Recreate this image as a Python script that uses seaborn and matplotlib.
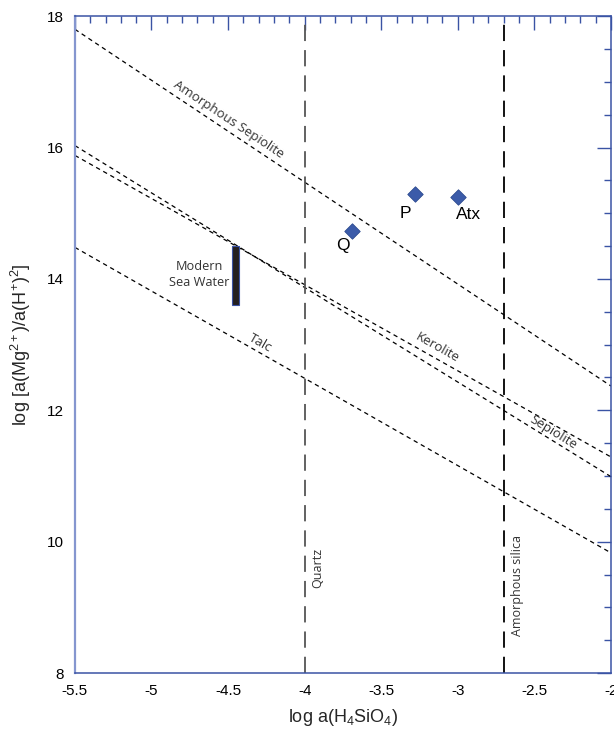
import numpy as np
import pandas as pd
import matplotlib
matplotlib.use("Agg")
import matplotlib.pyplot as plt
from matplotlib.ticker import MultipleLocator
import seaborn as sns

# ---- data ----
mineral_names = ["Amorphous Sepiolite", "Sepiolite", "Kerolite", "Talc"]
x_ends = [-5.5, -2.0]
y_left = [17.80, 16.03, 15.88, 14.48]
y_right = [12.37, 10.99, 11.29, 9.83]

silica_names = ["Quartz", "Amorphous silica"]
silica_x = [-4.0, -2.7]

sample_names = ["Q", "P", "Atx"]
sample_x = [-3.69, -3.28, -3.00]
sample_y = [14.73, 15.29, 15.25]

seawater_x = -4.45
seawater_range = [13.6, 14.5]

sns.set_theme(style="white")
plt.rcParams["font.family"] = ["Liberation Sans", "DejaVu Sans"]
plt.rcParams["mathtext.default"] = "regular"

fig = plt.figure(figsize=(6.14, 7.34), dpi=100)
ax = fig.add_axes([0.122, 0.083, 0.873, 0.895])

# mineral stability lines
rows = []
for n, yl, yr in zip(mineral_names, y_left, y_right):
    rows.append({"mineral": n, "x": x_ends[0], "y": yl})
    rows.append({"mineral": n, "x": x_ends[1], "y": yr})
lines_df = pd.DataFrame(rows)
for n in mineral_names:
    sub = lines_df[lines_df["mineral"] == n]
    sns.lineplot(data=sub, x="x", y="y", ax=ax, color="black", lw=0.9,
                 linestyle=(0, (3.5, 3)), sort=False, estimator=None)

# silica saturation lines
silica_colors = ["#555555", "black"]
for xv, c in zip(silica_x, silica_colors):
    ax.axvline(xv, color=c, lw=1.3, linestyle=(0, (9, 5)))

# modern sea water bar
ax.bar([seawater_x], [seawater_range[1] - seawater_range[0]],
       bottom=[seawater_range[0]], width=0.045, color="#231f20",
       edgecolor="#3a53a4", linewidth=0.8, zorder=3)

# samples
samp_df = pd.DataFrame({"name": sample_names, "x": sample_x, "y": sample_y})
sns.scatterplot(data=samp_df, x="x", y="y", ax=ax, marker="D", s=62,
                color="#3b5ba9", edgecolor="#2c4a90", linewidth=0.6, zorder=4)

# axes limits/ticks
ax.set_xlim(-5.5, -2.0)
ax.set_ylim(8, 18)
ax.xaxis.set_major_locator(MultipleLocator(0.5))
ax.xaxis.set_minor_locator(MultipleLocator(0.1))
ax.yaxis.set_major_locator(MultipleLocator(2))
ax.yaxis.set_minor_locator(MultipleLocator(0.5))
ax.xaxis.set_major_formatter(matplotlib.ticker.FuncFormatter(lambda v, p: f"{v:g}"))
ax.yaxis.set_major_formatter(matplotlib.ticker.FuncFormatter(lambda v, p: f"{v:g}"))
blue = "#3a53a4"
ax.tick_params(which="both", direction="in", top=True, right=True, colors=blue,
               labelcolor="black", labelsize=11)
ax.tick_params(which="major", length=10, width=1)
ax.tick_params(which="minor", length=5, width=1)
ax.tick_params(axis="x", pad=8)
ax.tick_params(axis="y", pad=8)
for s in ax.spines.values():
    s.set_color(blue)
    s.set_linewidth(1.1)
ax.spines["left"].set_color("#8596cf")
ax.spines["left"].set_linewidth(1.6)

ax.set_xlabel("log a(H$_4$SiO$_4$)", fontsize=13, labelpad=6)
ax.set_ylabel("log [a(Mg$^{2+}$)/a(H$^{+}$)$^{2}$]", fontsize=13, labelpad=10)

# annotations on lines
lab_font = ["Open Sans", "DejaVu Sans"]
label_pos = {"Amorphous Sepiolite": (-4.495, 16.42),
             "Kerolite": (-3.136, 12.95),
             "Sepiolite": (-2.378, 11.67),
             "Talc": (-4.29, 13.03)}
for n, yl, yr in zip(mineral_names, y_left, y_right):
    slope = (yr - yl) / (x_ends[1] - x_ends[0])
    ang = np.degrees(np.arctan(slope))
    xp, yp = label_pos[n]
    ax.text(xp, yp, n, rotation=ang, transform_rotates_text=True,
            rotation_mode="anchor", ha="center", va="center",
            fontsize=9.5, color="#333333", family=lab_font)

ax.text(-3.96, 9.6, "Quartz", rotation=90, ha="left", va="center",
        fontsize=9, color="#333333", family=lab_font)
ax.text(-2.655, 9.33, "Amorphous silica", rotation=90, ha="left", va="center",
        fontsize=9, color="#333333", family=lab_font)
ax.text(-4.69, 14.06, "Modern\nSea Water", ha="center", va="center",
        fontsize=9.2, color="#333333", family=lab_font, linespacing=1.3)

sample_label_off = {"Q": (-0.06, -0.22), "P": (-0.06, -0.3), "Atx": (0.07, -0.27)}
for n, xv, yv in zip(sample_names, sample_x, sample_y):
    dx, dy = sample_label_off[n]
    ax.text(xv + dx, yv + dy, n, ha="center", va="center", fontsize=12.5,
            color="black")

fig.savefig("out.png", dpi=100)
